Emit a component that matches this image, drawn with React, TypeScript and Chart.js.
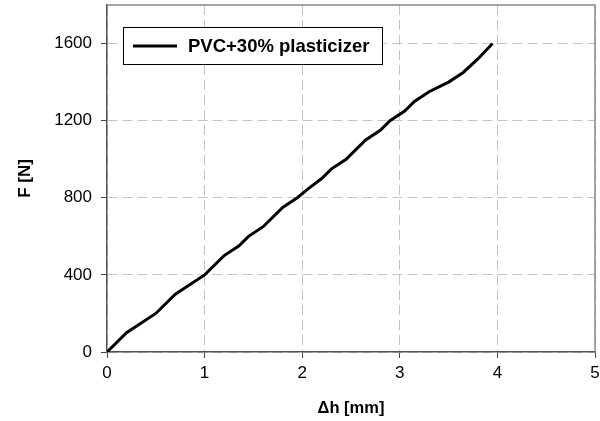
import React, { useEffect, useRef } from "react";
import { Chart, registerables } from "chart.js";

Chart.register(...registerables);

const seriesLabel = "PVC+30% plasticizer";
const deltaH = [0, 0.2, 0.5, 0.7, 1.0, 1.2, 1.35, 1.45, 1.6, 1.8, 1.95, 2.07, 2.2, 2.3, 2.45, 2.65, 2.8, 2.9, 3.05, 3.15, 3.3, 3.5, 3.65, 3.8, 3.95];
const force = [0, 100, 200, 300, 400, 500, 550, 600, 650, 750, 800, 850, 900, 950, 1000, 1100, 1150, 1200, 1250, 1300, 1350, 1400, 1450, 1520, 1600];
const xTitle = "\u0394h [mm]";
const yTitle = "F [N]";

const FONT = "'Liberation Sans', Arial, sans-serif";

const framePlugin = {
  id: "frameAndLegend",
  afterDraw(chart: any) {
    const { ctx, chartArea } = chart;
    const { left, right, top, bottom } = chartArea;
    ctx.save();
    ctx.strokeStyle = "#888888";
    ctx.lineWidth = 1.5;
    ctx.beginPath();
    ctx.moveTo(left, top);
    ctx.lineTo(right, top);
    ctx.lineTo(right, bottom);
    ctx.stroke();
    const ds = chart.data.datasets[0];
    const bx = left + 16;
    const by = top + 22;
    const bw = 259;
    const bh = 37;
    ctx.fillStyle = "#ffffff";
    ctx.fillRect(bx, by, bw, bh);
    ctx.strokeStyle = "#000000";
    ctx.lineWidth = 1;
    ctx.strokeRect(bx + 0.5, by + 0.5, bw, bh);
    const cy = by + bh / 2 + 0.5;
    ctx.strokeStyle = ds.borderColor;
    ctx.lineWidth = 3;
    ctx.beginPath();
    ctx.moveTo(bx + 10, cy);
    ctx.lineTo(bx + 54, cy);
    ctx.stroke();
    ctx.fillStyle = "#000000";
    ctx.font = `bold 18.5px ${FONT}`;
    ctx.textBaseline = "middle";
    ctx.textAlign = "left";
    ctx.fillText(ds.label, bx + 65, cy + 1);
    ctx.restore();
  },
};

export default function App() {
  const ref = useRef<HTMLCanvasElement>(null);
  useEffect(() => {
    if (!ref.current) return;
    const points = deltaH.map((x, i) => ({ x, y: force[i] }));
    const chart = new Chart(ref.current, {
      type: "scatter",
      data: {
        datasets: [
          {
            label: seriesLabel,
            data: points,
            showLine: true,
            borderColor: "#000000",
            backgroundColor: "#000000",
            borderWidth: 3,
            pointRadius: 0,
            tension: 0,
          },
        ],
      },
      options: {
        animation: false,
        responsive: false,
        devicePixelRatio: 1,
        layout: { padding: { top: 5, right: 5, left: 0, bottom: 0 } },
        plugins: { legend: { display: false }, tooltip: { enabled: false } },
        scales: {
          x: {
            type: "linear",
            min: 0,
            max: 5,
            ticks: { stepSize: 1, color: "#000", font: { family: FONT, size: 17 }, padding: 5, callback: (v: any) => String(v) },
            grid: { color: "#c4c4c4", lineWidth: 1, tickLength: 6, tickColor: "#444", drawTicks: true },
            border: { color: "#555", width: 1.5, dash: [10, 5] },
            title: { display: true, text: xTitle, color: "#000", font: { family: FONT, size: 16.5, weight: "bold" }, padding: { top: 0, bottom: 3 } },
            afterFit(scale: any) {
              scale.height = 69;
              scale.paddingLeft = 0;
              scale.paddingRight = 0;
            },
          },
          y: {
            type: "linear",
            min: 0,
            max: 1800,
            ticks: { stepSize: 400, includeBounds: false, color: "#000", font: { family: FONT, size: 17 }, padding: 9, callback: (v: any) => String(v) },
            grid: { color: "#c4c4c4", lineWidth: 1, tickLength: 6, tickColor: "#444", drawTicks: true },
            border: { color: "#555", width: 1.5, dash: [10, 5] },
            title: { display: true, text: yTitle, color: "#000", font: { family: FONT, size: 17, weight: "bold" }, padding: { top: 15, bottom: 0 } },
            afterFit(scale: any) {
              scale.width = 107;
              scale.paddingTop = 0;
              scale.paddingBottom = 0;
            },
          },
        },
      } as any,
      plugins: [framePlugin],
    });
    return () => chart.destroy();
  }, []);
  return (
    <div style={{ position: "fixed", left: 0, top: 0, width: 600, height: 421, background: "#fff" }}>
      <canvas ref={ref} width={600} height={421} style={{ width: 600, height: 421 }} />
    </div>
  );
}
